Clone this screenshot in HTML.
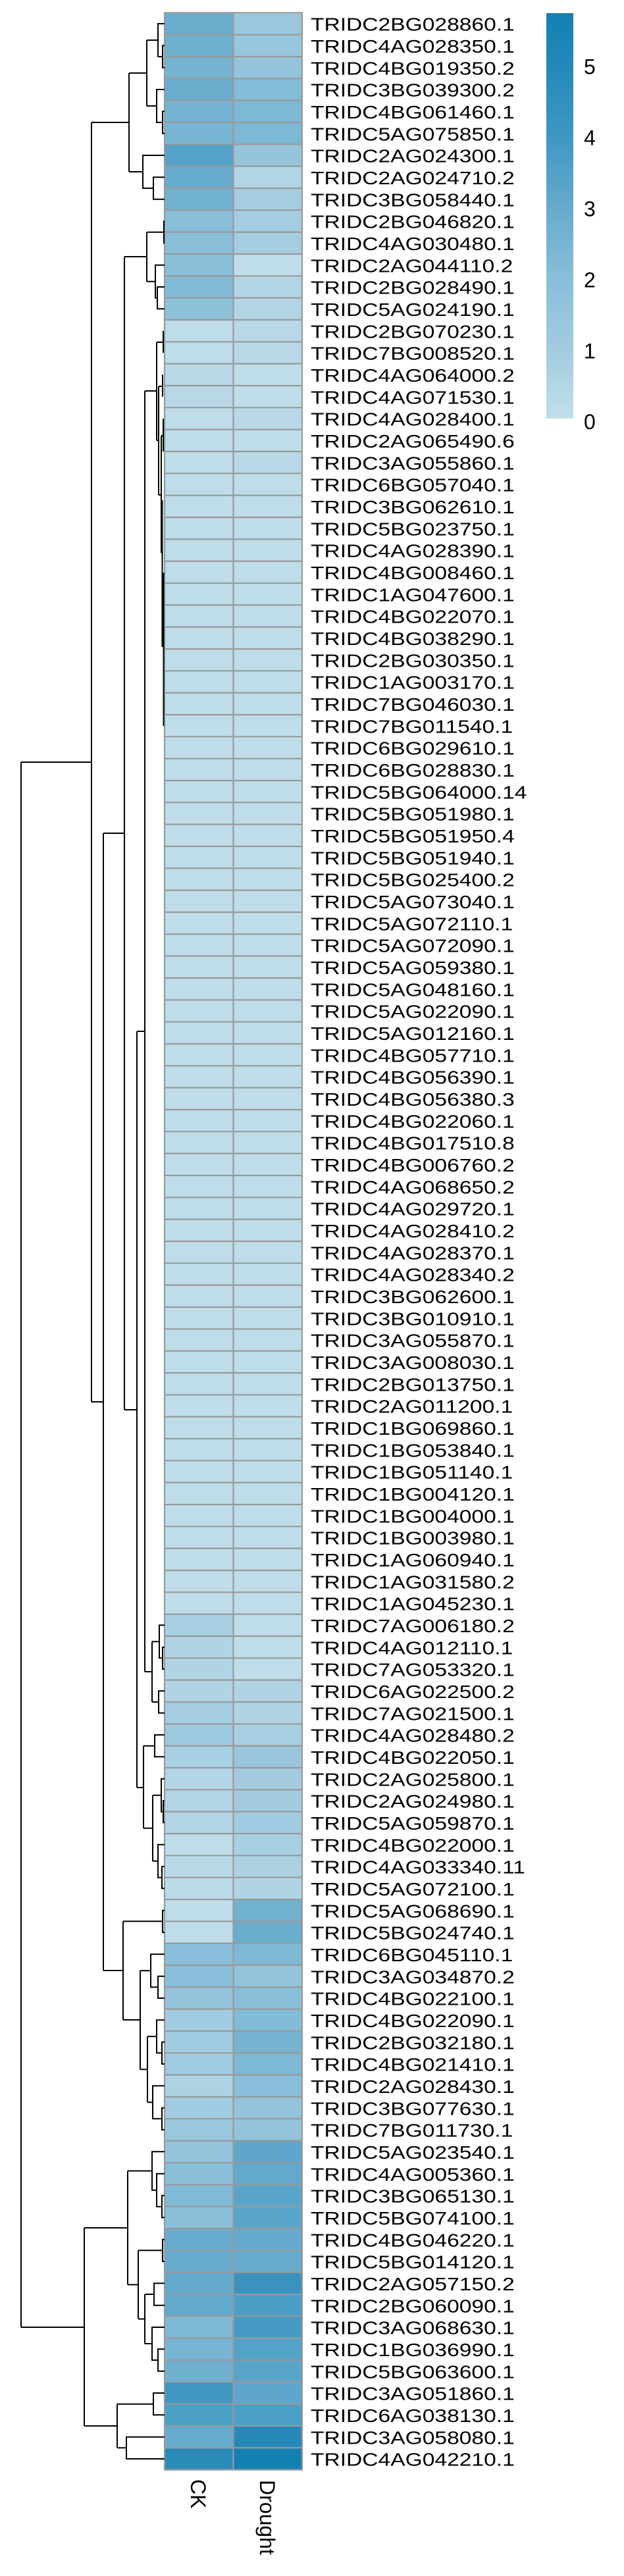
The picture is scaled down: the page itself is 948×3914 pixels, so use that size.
<!DOCTYPE html>
<html><head><meta charset="utf-8"><style>
html,body{margin:0;padding:0;background:#fff;}
svg{display:block;}
</style></head><body>
<svg width="948" height="3914" viewBox="0 0 948 3914" xmlns="http://www.w3.org/2000/svg">
<defs>
<linearGradient id="cb" x1="0" y1="0" x2="0" y2="1">
<stop offset="0" stop-color="#1380b2"/>
<stop offset="0.13" stop-color="#2389ba"/>
<stop offset="0.30" stop-color="#3e97c3"/>
<stop offset="0.48" stop-color="#66aacc"/>
<stop offset="0.65" stop-color="#88bed9"/>
<stop offset="0.83" stop-color="#a2cce0"/>
<stop offset="1" stop-color="#c0dfea"/>
</linearGradient>
</defs>
<g transform="translate(0,19.33) scale(1,33.333)">
<rect x="250" y="0" width="209" height="112" fill="#bfdde9"/>
<g>
<rect x="250" y="0" width="104.5" height="1" fill="#6aadcd"/><rect x="354.5" y="0" width="104.5" height="1" fill="#9bc7dd"/>
<rect x="250" y="1" width="104.5" height="1" fill="#6fb0cf"/><rect x="354.5" y="1" width="104.5" height="1" fill="#98c6dc"/>
<rect x="250" y="2" width="104.5" height="1" fill="#76b4d1"/><rect x="354.5" y="2" width="104.5" height="1" fill="#94c4db"/>
<rect x="250" y="3" width="104.5" height="1" fill="#6aadcd"/><rect x="354.5" y="3" width="104.5" height="1" fill="#85bcd7"/>
<rect x="250" y="4" width="104.5" height="1" fill="#74b3d1"/><rect x="354.5" y="4" width="104.5" height="1" fill="#7db8d4"/>
<rect x="250" y="5" width="104.5" height="1" fill="#78b5d2"/><rect x="354.5" y="5" width="104.5" height="1" fill="#7db8d4"/>
<rect x="250" y="6" width="104.5" height="1" fill="#54a2c9"/><rect x="354.5" y="6" width="104.5" height="1" fill="#96c5db"/>
<rect x="250" y="7" width="104.5" height="1" fill="#66abcc"/><rect x="354.5" y="7" width="104.5" height="1" fill="#b2d5e5"/>
<rect x="250" y="8" width="104.5" height="1" fill="#70b1cf"/><rect x="354.5" y="8" width="104.5" height="1" fill="#a5cde1"/>
<rect x="250" y="9" width="104.5" height="1" fill="#8abfd9"/><rect x="354.5" y="9" width="104.5" height="1" fill="#a5cde1"/>
<rect x="250" y="10" width="104.5" height="1" fill="#8abfd9"/><rect x="354.5" y="10" width="104.5" height="1" fill="#a5cde1"/>
<rect x="250" y="11" width="104.5" height="1" fill="#8abfd9"/><rect x="354.5" y="11" width="104.5" height="1" fill="#bfdde9"/>
<rect x="250" y="12" width="104.5" height="1" fill="#82bbd6"/><rect x="354.5" y="12" width="104.5" height="1" fill="#b2d5e5"/>
<rect x="250" y="13" width="104.5" height="1" fill="#8dc1da"/><rect x="354.5" y="13" width="104.5" height="1" fill="#b2d5e5"/>
<rect x="354.5" y="14" width="104.5" height="2" fill="#b8d8e7"/>
<rect x="250" y="16" width="104.5" height="2" fill="#b8d8e7"/>
<rect x="354.5" y="18" width="104.5" height="1" fill="#b8d8e7"/>
<rect x="354.5" y="20" width="104.5" height="1" fill="#b8d8e7"/>
<rect x="250" y="73" width="104.5" height="1" fill="#a8d0e3"/>
<rect x="250" y="74" width="104.5" height="1" fill="#b1d4e5"/>
<rect x="250" y="75" width="104.5" height="1" fill="#b1d4e5"/>
<rect x="250" y="76" width="104.5" height="1" fill="#b1d4e5"/><rect x="354.5" y="76" width="104.5" height="1" fill="#b1d4e5"/>
<rect x="250" y="77" width="104.5" height="1" fill="#a5cde1"/><rect x="354.5" y="77" width="104.5" height="1" fill="#b1d4e5"/>
<rect x="250" y="78" width="104.5" height="1" fill="#9dc9df"/><rect x="354.5" y="78" width="104.5" height="1" fill="#a8d0e3"/>
<rect x="250" y="79" width="104.5" height="1" fill="#a8d0e3"/><rect x="354.5" y="79" width="104.5" height="1" fill="#99c6dd"/>
<rect x="250" y="80" width="104.5" height="1" fill="#b3d5e6"/><rect x="354.5" y="80" width="104.5" height="1" fill="#a3cce1"/>
<rect x="250" y="81" width="104.5" height="1" fill="#b3d5e6"/><rect x="354.5" y="81" width="104.5" height="1" fill="#a3cce1"/>
<rect x="250" y="82" width="104.5" height="1" fill="#b3d5e6"/><rect x="354.5" y="82" width="104.5" height="1" fill="#a0cbe0"/>
<rect x="250" y="83" width="104.5" height="1" fill="#bfdde9"/><rect x="354.5" y="83" width="104.5" height="1" fill="#a8d0e3"/>
<rect x="250" y="84" width="104.5" height="1" fill="#bad9e8"/><rect x="354.5" y="84" width="104.5" height="1" fill="#abd1e3"/>
<rect x="250" y="85" width="104.5" height="1" fill="#bddbe9"/><rect x="354.5" y="85" width="104.5" height="1" fill="#b1d4e5"/>
<rect x="250" y="86" width="104.5" height="1" fill="#bfdde9"/><rect x="354.5" y="86" width="104.5" height="1" fill="#70b1cf"/>
<rect x="250" y="87" width="104.5" height="1" fill="#bfdde9"/><rect x="354.5" y="87" width="104.5" height="1" fill="#6aadcd"/>
<rect x="250" y="88" width="104.5" height="1" fill="#88bed9"/><rect x="354.5" y="88" width="104.5" height="1" fill="#7db8d4"/>
<rect x="250" y="89" width="104.5" height="1" fill="#88bed9"/><rect x="354.5" y="89" width="104.5" height="1" fill="#93c4db"/>
<rect x="250" y="90" width="104.5" height="1" fill="#93c4db"/><rect x="354.5" y="90" width="104.5" height="1" fill="#8abfd9"/>
<rect x="250" y="91" width="104.5" height="1" fill="#a0cbe0"/><rect x="354.5" y="91" width="104.5" height="1" fill="#82bbd6"/>
<rect x="250" y="92" width="104.5" height="1" fill="#a0cbe0"/><rect x="354.5" y="92" width="104.5" height="1" fill="#76b4d1"/>
<rect x="250" y="93" width="104.5" height="1" fill="#a0cbe0"/><rect x="354.5" y="93" width="104.5" height="1" fill="#7db8d4"/>
<rect x="250" y="94" width="104.5" height="1" fill="#add2e4"/><rect x="354.5" y="94" width="104.5" height="1" fill="#88bed9"/>
<rect x="250" y="95" width="104.5" height="1" fill="#a0cbe0"/><rect x="354.5" y="95" width="104.5" height="1" fill="#93c4db"/>
<rect x="250" y="96" width="104.5" height="1" fill="#9ac7de"/><rect x="354.5" y="96" width="104.5" height="1" fill="#93c4db"/>
<rect x="250" y="97" width="104.5" height="1" fill="#93c4db"/><rect x="354.5" y="97" width="104.5" height="1" fill="#5ea7cb"/>
<rect x="250" y="98" width="104.5" height="1" fill="#8abfd9"/><rect x="354.5" y="98" width="104.5" height="1" fill="#62a9cc"/>
<rect x="250" y="99" width="104.5" height="1" fill="#80bad6"/><rect x="354.5" y="99" width="104.5" height="1" fill="#58a5c9"/>
<rect x="250" y="100" width="104.5" height="1" fill="#8abfd9"/><rect x="354.5" y="100" width="104.5" height="1" fill="#58a5c9"/>
<rect x="250" y="101" width="104.5" height="1" fill="#68accd"/><rect x="354.5" y="101" width="104.5" height="1" fill="#64aacc"/>
<rect x="250" y="102" width="104.5" height="1" fill="#68accd"/><rect x="354.5" y="102" width="104.5" height="1" fill="#68accd"/>
<rect x="250" y="103" width="104.5" height="1" fill="#62a9cc"/><rect x="354.5" y="103" width="104.5" height="1" fill="#3a93bf"/>
<rect x="250" y="104" width="104.5" height="1" fill="#62a9cc"/><rect x="354.5" y="104" width="104.5" height="1" fill="#4c9ec6"/>
<rect x="250" y="105" width="104.5" height="1" fill="#7db8d4"/><rect x="354.5" y="105" width="104.5" height="1" fill="#449ac3"/>
<rect x="250" y="106" width="104.5" height="1" fill="#78b5d2"/><rect x="354.5" y="106" width="104.5" height="1" fill="#53a2c8"/>
<rect x="250" y="107" width="104.5" height="1" fill="#6fb0cf"/><rect x="354.5" y="107" width="104.5" height="1" fill="#58a5c9"/>
<rect x="250" y="108" width="104.5" height="1" fill="#3f97c2"/><rect x="354.5" y="108" width="104.5" height="1" fill="#5ea7cb"/>
<rect x="250" y="109" width="104.5" height="1" fill="#4ba0c6"/><rect x="354.5" y="109" width="104.5" height="1" fill="#4ba0c6"/>
<rect x="250" y="110" width="104.5" height="1" fill="#66abcc"/><rect x="354.5" y="110" width="104.5" height="1" fill="#2889b8"/>
<rect x="250" y="111" width="104.5" height="1" fill="#2a8bb9"/><rect x="354.5" y="111" width="104.5" height="1" fill="#1380b2"/>
</g>
<path vector-effect="non-scaling-stroke" stroke="#999" stroke-width="2.2" fill="none" d="M250 0V112M354.5 0V112M459 0V112
M249 0H460M249 1H460M249 2H460M249 3H460M249 4H460M249 5H460M249 6H460M249 7H460M249 8H460M249 9H460
M249 10H460M249 11H460M249 12H460M249 13H460M249 14H460M249 15H460M249 16H460M249 17H460M249 18H460M249 19H460
M249 20H460M249 21H460M249 22H460M249 23H460M249 24H460M249 25H460M249 26H460M249 27H460M249 28H460M249 29H460
M249 30H460M249 31H460M249 32H460M249 33H460M249 34H460M249 35H460M249 36H460M249 37H460M249 38H460M249 39H460
M249 40H460M249 41H460M249 42H460M249 43H460M249 44H460M249 45H460M249 46H460M249 47H460M249 48H460M249 49H460
M249 50H460M249 51H460M249 52H460M249 53H460M249 54H460M249 55H460M249 56H460M249 57H460M249 58H460M249 59H460
M249 60H460M249 61H460M249 62H460M249 63H460M249 64H460M249 65H460M249 66H460M249 67H460M249 68H460M249 69H460
M249 70H460M249 71H460M249 72H460M249 73H460M249 74H460M249 75H460M249 76H460M249 77H460M249 78H460M249 79H460
M249 80H460M249 81H460M249 82H460M249 83H460M249 84H460M249 85H460M249 86H460M249 87H460M249 88H460M249 89H460
M249 90H460M249 91H460M249 92H460M249 93H460M249 94H460M249 95H460M249 96H460M249 97H460M249 98H460M249 99H460
M249 100H460M249 101H460M249 102H460M249 103H460M249 104H460M249 105H460M249 106H460M249 107H460M249 108H460M249 109H460
M249 110H460M249 111H460M249 112H460"/>
</g>
<path fill="none" stroke="#000" stroke-width="2" d="
M250 69.3H247V102.7H250M250 36H240V86H247M240 61H223
M250 169.3H247V202.7H250M250 136H238V186H247M238 161H223
M223 61V161M223 111H196
M250 269.3H233V302.7H250M250 236H217V286H233M217 261H196
M196 111V261M196 186H139
M250 336H249V369.3H250M249 352.7H223
M250 436H239V469.3H250M250 402.7H236V452.7H239M236 427.7H223
M223 352.7V427.7M223 390H189
M220 594H238M238 520V669M238 520H248M248 502.7V536M238 669H241M241 587V752M241 587H247M247 569.3V602.7M241 752H245M245 662V840M245 662H248M248 636V686M245 840H246.5M246.5 760V983M248.5 870V1103
M220 594V2540M220 1567H208
M250 2502.7H247V2536H250M250 2469.3H242V2519.3H247M242 2494.3H231
M250 2569.3H241V2602.7H250M241 2586H231M231 2494.3V2586M231 2540H220
M208 1567V2716M208 2142H189M208 2716H218
M250 2636H235V2669.3H250M235 2652.7H218
M250 2736H248V2769.3H250M250 2702.7H245V2752.7H248M245 2727.7H232
M250 2836H246V2869.3H250M250 2802.7H240V2852.7H246M240 2827.7H232
M232 2727.7V2827.7M232 2777.7H218M218 2652.7V2777.7
M189 390V2142M189 1266H157
M157 1266V2994M157 2130H139
M139 186V2130M139 1158H32
M250 2902.7H247V2936H250M247 2919.3H187M187 2919.3V3069M187 2994H157M187 3069H213
M213 2994.3V3144.3
M250 3002.7H240V3036H250M250 2969.3H229V3019.3H240M229 2994.3H213
M250 3102.7H246V3136H250M250 3069.3H238V3119.3H246M238 3094.3H224
M250 3202.7H246V3236H250M250 3169.3H232V3219.3H246M232 3194.3H224
M224 3094.3V3194.3M224 3144.3H213
M32 1158V3536M32 3536H128
M128 3385V3686
M250 3336H246V3369.3H250M250 3302.7H238V3352.7H246M250 3269.3H231V3327.7H238M231 3298.5H194
M250 3402.7H247V3436H250M247 3419.3H210
M250 3469.3H234V3502.7H250M234 3486H220
M250 3569.3H240V3602.7H250M250 3536H231V3586H240M231 3561H220
M220 3486V3561M220 3523.5H210M210 3419.3V3523.5M210 3471.4H194
M194 3298.5V3471.4M194 3385H128
M250 3636H233V3669.3H250M233 3652.7H178
M250 3702.7H192V3736H250M192 3719.3H178
M178 3652.7V3719.3M178 3686H128"/>
<g transform="scale(1.2,1)">
<text font-family="Liberation Sans, Arial, sans-serif" font-size="28" fill="#000">
<tspan x="393.3" y="46.7">TRIDC2BG028860.1</tspan>
<tspan x="393.3" dy="33.333">TRIDC4AG028350.1</tspan>
<tspan x="393.3" dy="33.333">TRIDC4BG019350.2</tspan>
<tspan x="393.3" dy="33.333">TRIDC3BG039300.2</tspan>
<tspan x="393.3" dy="33.333">TRIDC4BG061460.1</tspan>
<tspan x="393.3" dy="33.333">TRIDC5AG075850.1</tspan>
<tspan x="393.3" dy="33.333">TRIDC2AG024300.1</tspan>
<tspan x="393.3" dy="33.333">TRIDC2AG024710.2</tspan>
<tspan x="393.3" dy="33.333">TRIDC3BG058440.1</tspan>
<tspan x="393.3" dy="33.333">TRIDC2BG046820.1</tspan>
<tspan x="393.3" dy="33.333">TRIDC4AG030480.1</tspan>
<tspan x="393.3" dy="33.333">TRIDC2AG044110.2</tspan>
<tspan x="393.3" dy="33.333">TRIDC2BG028490.1</tspan>
<tspan x="393.3" dy="33.333">TRIDC5AG024190.1</tspan>
<tspan x="393.3" dy="33.333">TRIDC2BG070230.1</tspan>
<tspan x="393.3" dy="33.333">TRIDC7BG008520.1</tspan>
<tspan x="393.3" dy="33.333">TRIDC4AG064000.2</tspan>
<tspan x="393.3" dy="33.333">TRIDC4AG071530.1</tspan>
<tspan x="393.3" dy="33.333">TRIDC4AG028400.1</tspan>
<tspan x="393.3" dy="33.333">TRIDC2AG065490.6</tspan>
<tspan x="393.3" dy="33.333">TRIDC3AG055860.1</tspan>
<tspan x="393.3" dy="33.333">TRIDC6BG057040.1</tspan>
<tspan x="393.3" dy="33.333">TRIDC3BG062610.1</tspan>
<tspan x="393.3" dy="33.333">TRIDC5BG023750.1</tspan>
<tspan x="393.3" dy="33.333">TRIDC4AG028390.1</tspan>
<tspan x="393.3" dy="33.333">TRIDC4BG008460.1</tspan>
<tspan x="393.3" dy="33.333">TRIDC1AG047600.1</tspan>
<tspan x="393.3" dy="33.333">TRIDC4BG022070.1</tspan>
<tspan x="393.3" dy="33.333">TRIDC4BG038290.1</tspan>
<tspan x="393.3" dy="33.333">TRIDC2BG030350.1</tspan>
<tspan x="393.3" dy="33.333">TRIDC1AG003170.1</tspan>
<tspan x="393.3" dy="33.333">TRIDC7BG046030.1</tspan>
<tspan x="393.3" dy="33.333">TRIDC7BG011540.1</tspan>
<tspan x="393.3" dy="33.333">TRIDC6BG029610.1</tspan>
<tspan x="393.3" dy="33.333">TRIDC6BG028830.1</tspan>
<tspan x="393.3" dy="33.333">TRIDC5BG064000.14</tspan>
<tspan x="393.3" dy="33.333">TRIDC5BG051980.1</tspan>
<tspan x="393.3" dy="33.333">TRIDC5BG051950.4</tspan>
<tspan x="393.3" dy="33.333">TRIDC5BG051940.1</tspan>
<tspan x="393.3" dy="33.333">TRIDC5BG025400.2</tspan>
<tspan x="393.3" dy="33.333">TRIDC5AG073040.1</tspan>
<tspan x="393.3" dy="33.333">TRIDC5AG072110.1</tspan>
<tspan x="393.3" dy="33.333">TRIDC5AG072090.1</tspan>
<tspan x="393.3" dy="33.333">TRIDC5AG059380.1</tspan>
<tspan x="393.3" dy="33.333">TRIDC5AG048160.1</tspan>
<tspan x="393.3" dy="33.333">TRIDC5AG022090.1</tspan>
<tspan x="393.3" dy="33.333">TRIDC5AG012160.1</tspan>
<tspan x="393.3" dy="33.333">TRIDC4BG057710.1</tspan>
<tspan x="393.3" dy="33.333">TRIDC4BG056390.1</tspan>
<tspan x="393.3" dy="33.333">TRIDC4BG056380.3</tspan>
<tspan x="393.3" dy="33.333">TRIDC4BG022060.1</tspan>
<tspan x="393.3" dy="33.333">TRIDC4BG017510.8</tspan>
<tspan x="393.3" dy="33.333">TRIDC4BG006760.2</tspan>
<tspan x="393.3" dy="33.333">TRIDC4AG068650.2</tspan>
<tspan x="393.3" dy="33.333">TRIDC4AG029720.1</tspan>
<tspan x="393.3" dy="33.333">TRIDC4AG028410.2</tspan>
<tspan x="393.3" dy="33.333">TRIDC4AG028370.1</tspan>
<tspan x="393.3" dy="33.333">TRIDC4AG028340.2</tspan>
<tspan x="393.3" dy="33.333">TRIDC3BG062600.1</tspan>
<tspan x="393.3" dy="33.333">TRIDC3BG010910.1</tspan>
<tspan x="393.3" dy="33.333">TRIDC3AG055870.1</tspan>
<tspan x="393.3" dy="33.333">TRIDC3AG008030.1</tspan>
<tspan x="393.3" dy="33.333">TRIDC2BG013750.1</tspan>
<tspan x="393.3" dy="33.333">TRIDC2AG011200.1</tspan>
<tspan x="393.3" dy="33.333">TRIDC1BG069860.1</tspan>
<tspan x="393.3" dy="33.333">TRIDC1BG053840.1</tspan>
<tspan x="393.3" dy="33.333">TRIDC1BG051140.1</tspan>
<tspan x="393.3" dy="33.333">TRIDC1BG004120.1</tspan>
<tspan x="393.3" dy="33.333">TRIDC1BG004000.1</tspan>
<tspan x="393.3" dy="33.333">TRIDC1BG003980.1</tspan>
<tspan x="393.3" dy="33.333">TRIDC1AG060940.1</tspan>
<tspan x="393.3" dy="33.333">TRIDC1AG031580.2</tspan>
<tspan x="393.3" dy="33.333">TRIDC1AG045230.1</tspan>
<tspan x="393.3" dy="33.333">TRIDC7AG006180.2</tspan>
<tspan x="393.3" dy="33.333">TRIDC4AG012110.1</tspan>
<tspan x="393.3" dy="33.333">TRIDC7AG053320.1</tspan>
<tspan x="393.3" dy="33.333">TRIDC6AG022500.2</tspan>
<tspan x="393.3" dy="33.333">TRIDC7AG021500.1</tspan>
<tspan x="393.3" dy="33.333">TRIDC4AG028480.2</tspan>
<tspan x="393.3" dy="33.333">TRIDC4BG022050.1</tspan>
<tspan x="393.3" dy="33.333">TRIDC2AG025800.1</tspan>
<tspan x="393.3" dy="33.333">TRIDC2AG024980.1</tspan>
<tspan x="393.3" dy="33.333">TRIDC5AG059870.1</tspan>
<tspan x="393.3" dy="33.333">TRIDC4BG022000.1</tspan>
<tspan x="393.3" dy="33.333">TRIDC4AG033340.11</tspan>
<tspan x="393.3" dy="33.333">TRIDC5AG072100.1</tspan>
<tspan x="393.3" dy="33.333">TRIDC5AG068690.1</tspan>
<tspan x="393.3" dy="33.333">TRIDC5BG024740.1</tspan>
<tspan x="393.3" dy="33.333">TRIDC6BG045110.1</tspan>
<tspan x="393.3" dy="33.333">TRIDC3AG034870.2</tspan>
<tspan x="393.3" dy="33.333">TRIDC4BG022100.1</tspan>
<tspan x="393.3" dy="33.333">TRIDC4BG022090.1</tspan>
<tspan x="393.3" dy="33.333">TRIDC2BG032180.1</tspan>
<tspan x="393.3" dy="33.333">TRIDC4BG021410.1</tspan>
<tspan x="393.3" dy="33.333">TRIDC2AG028430.1</tspan>
<tspan x="393.3" dy="33.333">TRIDC3BG077630.1</tspan>
<tspan x="393.3" dy="33.333">TRIDC7BG011730.1</tspan>
<tspan x="393.3" dy="33.333">TRIDC5AG023540.1</tspan>
<tspan x="393.3" dy="33.333">TRIDC4AG005360.1</tspan>
<tspan x="393.3" dy="33.333">TRIDC3BG065130.1</tspan>
<tspan x="393.3" dy="33.333">TRIDC5BG074100.1</tspan>
<tspan x="393.3" dy="33.333">TRIDC4BG046220.1</tspan>
<tspan x="393.3" dy="33.333">TRIDC5BG014120.1</tspan>
<tspan x="393.3" dy="33.333">TRIDC2AG057150.2</tspan>
<tspan x="393.3" dy="33.333">TRIDC2BG060090.1</tspan>
<tspan x="393.3" dy="33.333">TRIDC3AG068630.1</tspan>
<tspan x="393.3" dy="33.333">TRIDC1BG036990.1</tspan>
<tspan x="393.3" dy="33.333">TRIDC5BG063600.1</tspan>
<tspan x="393.3" dy="33.333">TRIDC3AG051860.1</tspan>
<tspan x="393.3" dy="33.333">TRIDC6AG038130.1</tspan>
<tspan x="393.3" dy="33.333">TRIDC3AG058080.1</tspan>
<tspan x="393.3" dy="33.333">TRIDC4AG042210.1</tspan>
</text>
</g>
<rect x="830" y="20" width="41" height="616" fill="url(#cb)"/>
<g font-family="Liberation Sans, Arial, sans-serif" font-size="32" fill="#000">
<text x="887" y="112.5">5</text>
<text x="887" y="220.5">4</text>
<text x="887" y="328.5">3</text>
<text x="887" y="436.5">2</text>
<text x="887" y="544.5">1</text>
<text x="887" y="652">0</text>
<text transform="translate(290,3767) rotate(90)" x="0" y="0">CK</text>
<text transform="translate(395,3768) rotate(90)" x="0" y="0">Drought</text>
</g>
</svg>
</body></html>
